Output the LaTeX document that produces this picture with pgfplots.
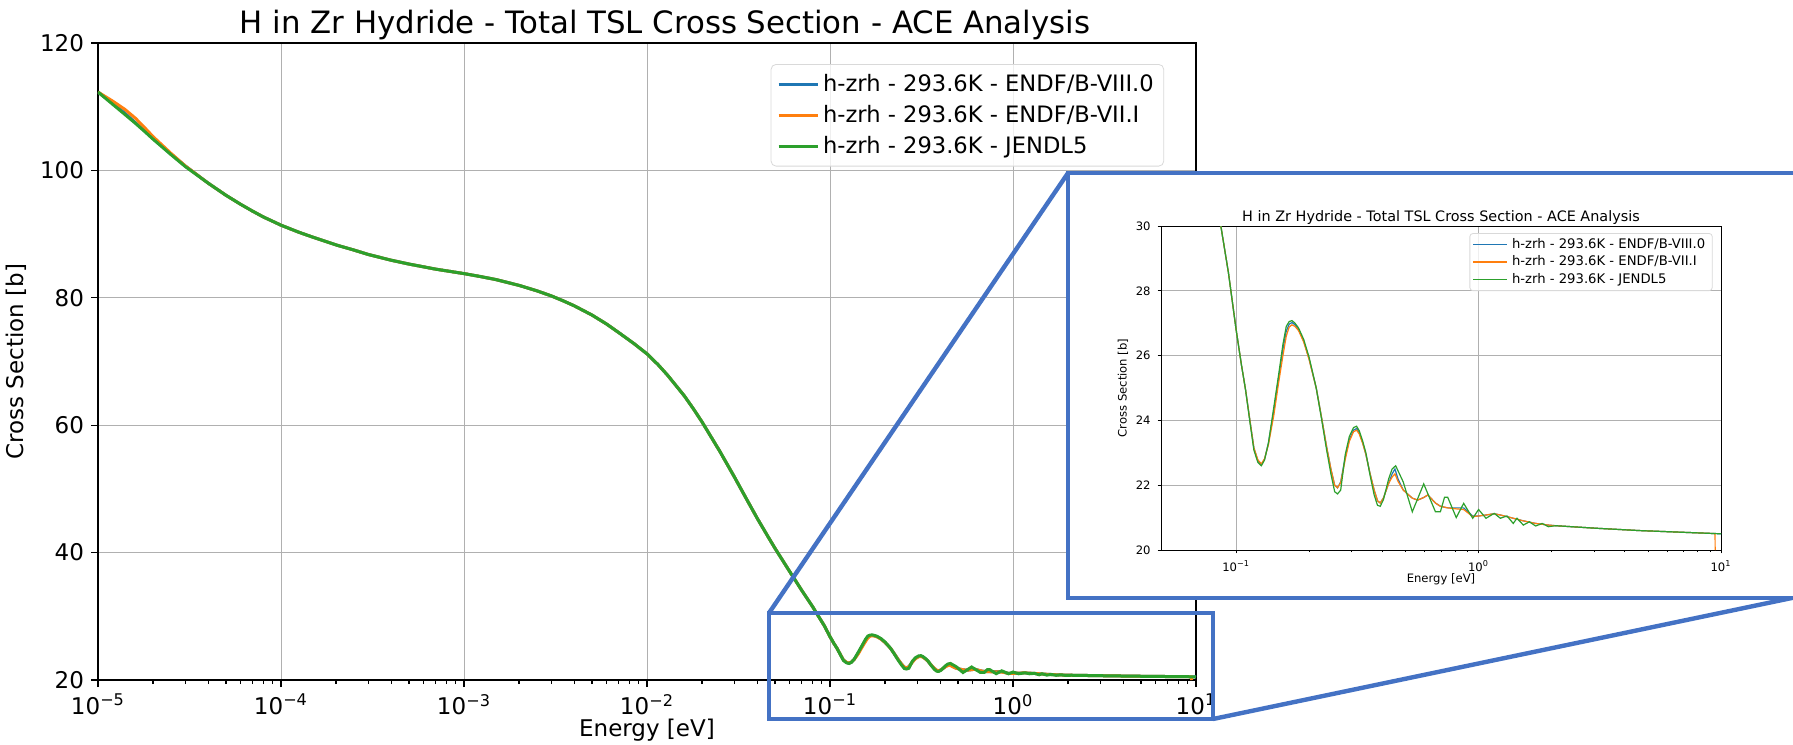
\documentclass[border=0pt]{standalone}
\usepackage{pgfplots}
\usepackage{pgfplotstable}
\pgfplotsset{compat=1.18}
\usepackage{fontspec}
\setmainfont{DejaVu Sans}
\definecolor{cA}{HTML}{1F77B4}
\definecolor{cB}{HTML}{FF7F0E}
\definecolor{cC}{HTML}{2CA02C}
\definecolor{zb}{HTML}{4472C4}
\definecolor{gridgray}{HTML}{B0B0B0}

\pgfplotstableread{
E y
1e-5 112.3
1.2e-5 110.6
1.4e-5 109.0
1.6e-5 107.5
1.8e-5 106.2
2e-5 105.0
2.5e-5 102.6
3e-5 100.7
4e-5 98.0
5e-5 96.1
6e-5 94.7
7e-5 93.6
8e-5 92.7
1e-4 91.4
1.25e-4 90.3
1.5e-4 89.5
2e-4 88.3
2.5e-4 87.5
3e-4 86.8
4e-4 85.9
5e-4 85.3
7e-4 84.5
1e-3 83.8
1.25e-3 83.3
1.5e-3 82.85
2e-3 81.95
2.5e-3 81.1
3e-3 80.3
3.5e-3 79.5
4e-3 78.75
5e-3 77.3
6e-3 75.9
7e-3 74.55
8.5e-3 72.8
1e-2 71.2
1.15e-2 69.5
1.3e-2 67.8
1.6e-2 64.6
1.8e-2 62.5
2e-2 60.5
2.5e-2 55.9
3e-2 51.9
3.5e-2 48.4
4e-2 45.4
4.5e-2 42.9
5e-2 40.7
6e-2 37.1
7e-2 34.1
8e-2 31.6
0.0865 30.0
0.093 28.55
0.1 26.8
0.105 25.75
0.1094 24.94
0.114 24.0
0.1184 23.15
0.123 22.75
0.1271 22.63
0.131 22.8
0.1359 23.3
0.143 24.3
0.150 25.35
0.156 26.2
0.161 26.75
0.1655 26.97
0.170 27.02
0.175 26.95
0.181 26.8
0.190 26.45
0.2 25.9
0.214 25.0
0.225 24.1
0.236 23.2
0.246 22.5
0.255 22.0
0.262 21.92
0.27 22.1
0.282 22.88
0.293 23.4
0.305 23.70
0.314 23.75
0.322 23.62
0.333 23.3
0.343 22.95
0.357 22.35
0.371 21.85
0.383 21.52
0.393 21.45
0.405 21.6
0.426 22.06
0.44 22.35
0.452 22.5
0.465 22.2
0.489 21.85
0.533 21.6
0.561 21.54
0.594 21.62
0.618 21.7
0.664 21.45
0.696 21.35
0.746 21.3
0.809 21.3
0.868 21.3
0.946 21.05
1.0 21.05
1.073 21.08
1.16 21.12
1.23 21.08
1.31 21.03
1.39 20.98
1.53 20.9
1.72 20.82
1.94 20.77
2.08 20.75
3.08 20.67
4.6 20.6
6.8 20.55
10 20.5
}\tabA

\pgfplotstableread{
E y
1e-5 112.3
1.2e-5 110.9
1.4e-5 109.6
1.6e-5 108.2
1.8e-5 106.7
2e-5 105.3
2.5e-5 102.7
3e-5 100.7
4e-5 98.0
5e-5 96.1
6e-5 94.7
7e-5 93.6
8e-5 92.7
1e-4 91.4
1.25e-4 90.3
1.5e-4 89.5
2e-4 88.3
2.5e-4 87.5
3e-4 86.8
4e-4 85.9
5e-4 85.3
7e-4 84.5
1e-3 83.8
1.25e-3 83.3
1.5e-3 82.85
2e-3 81.95
2.5e-3 81.1
3e-3 80.3
3.5e-3 79.5
4e-3 78.75
5e-3 77.3
6e-3 75.9
7e-3 74.55
8.5e-3 72.8
1e-2 71.2
1.15e-2 69.5
1.3e-2 67.8
1.6e-2 64.6
1.8e-2 62.5
2e-2 60.5
2.5e-2 55.9
3e-2 51.9
3.5e-2 48.4
4e-2 45.4
4.5e-2 42.9
5e-2 40.7
6e-2 37.1
7e-2 34.1
8e-2 31.6
0.0865 30.0
0.093 28.55
0.1 26.8
0.105 25.75
0.1094 24.94
0.114 24.0
0.1184 23.15
0.123 22.78
0.1271 22.66
0.131 22.82
0.1359 23.25
0.143 24.15
0.150 25.2
0.156 26.0
0.161 26.6
0.1655 26.88
0.170 26.95
0.175 26.9
0.181 26.77
0.190 26.42
0.2 25.88
0.214 25.0
0.225 24.1
0.236 23.2
0.246 22.5
0.255 22.0
0.262 21.92
0.27 22.08
0.282 22.8
0.293 23.35
0.305 23.65
0.314 23.7
0.322 23.58
0.333 23.28
0.343 22.95
0.357 22.35
0.371 21.85
0.383 21.52
0.393 21.45
0.405 21.6
0.426 22.06
0.44 22.25
0.452 22.35
0.465 22.12
0.489 21.85
0.533 21.6
0.561 21.54
0.594 21.62
0.618 21.7
0.664 21.45
0.696 21.35
0.746 21.3
0.809 21.27
0.868 21.25
0.946 21.03
1.0 21.05
1.073 21.08
1.16 21.12
1.23 21.08
1.31 21.03
1.39 20.98
1.53 20.9
1.72 20.82
1.94 20.77
2.08 20.75
3.08 20.67
4.6 20.6
6.8 20.55
9.3 20.51
9.45 20.5
9.46 20.0
}\tabB

\pgfplotstableread{
E y
1e-5 112.3
1.2e-5 110.4
1.4e-5 108.8
1.6e-5 107.4
1.8e-5 106.1
2e-5 104.9
2.5e-5 102.5
3e-5 100.6
4e-5 98.0
5e-5 96.1
6e-5 94.7
7e-5 93.6
8e-5 92.7
1e-4 91.4
1.25e-4 90.3
1.5e-4 89.5
2e-4 88.3
2.5e-4 87.5
3e-4 86.8
4e-4 85.9
5e-4 85.3
7e-4 84.5
1e-3 83.8
1.25e-3 83.3
1.5e-3 82.85
2e-3 81.95
2.5e-3 81.1
3e-3 80.3
3.5e-3 79.5
4e-3 78.75
5e-3 77.3
6e-3 75.9
7e-3 74.55
8.5e-3 72.8
1e-2 71.2
1.15e-2 69.5
1.3e-2 67.8
1.6e-2 64.6
1.8e-2 62.5
2e-2 60.5
2.5e-2 55.9
3e-2 51.9
3.5e-2 48.4
4e-2 45.4
4.5e-2 42.9
5e-2 40.7
6e-2 37.1
7e-2 34.1
8e-2 31.6
0.0865 30.0
0.093 28.55
0.1 26.8
0.105 25.75
0.1094 24.94
0.114 23.95
0.1184 23.08
0.123 22.7
0.1271 22.6
0.131 22.78
0.1359 23.3
0.143 24.4
0.150 25.45
0.156 26.35
0.161 26.9
0.1655 27.05
0.170 27.08
0.175 27.0
0.181 26.85
0.190 26.5
0.2 25.95
0.214 25.0
0.225 24.05
0.236 23.1
0.246 22.35
0.255 21.8
0.262 21.73
0.27 21.85
0.282 22.95
0.293 23.5
0.305 23.78
0.314 23.82
0.322 23.68
0.333 23.35
0.343 23.0
0.357 22.3
0.371 21.7
0.383 21.38
0.393 21.35
0.405 21.55
0.426 22.2
0.44 22.5
0.455 22.6
0.465 22.45
0.489 22.1
0.533 21.18
0.594 22.04
0.664 21.18
0.696 21.18
0.724 21.63
0.746 21.63
0.809 21.0
0.868 21.44
0.946 20.98
1.0 21.25
1.073 20.98
1.16 21.13
1.23 20.98
1.31 21.05
1.39 20.82
1.44 20.98
1.53 20.77
1.62 20.87
1.72 20.74
1.83 20.82
1.94 20.72
2.08 20.75
3.08 20.67
4.6 20.6
6.8 20.55
10 20.5
}\tabC

\begin{document}
\begin{tikzpicture}
\useasboundingbox (0pt,0pt) rectangle (896.5pt,-372pt);
\clip (0pt,0pt) rectangle (896.5pt,-372pt);
% ---------------- main axis ----------------
\begin{axis}[
  at={(49pt,-340pt)}, anchor=south west,
  width=549pt, height=318.5pt, scale only axis,
  xmode=log, xmin=1e-5, xmax=10, ymin=20, ymax=120,
  xtick={1e-5,1e-4,1e-3,1e-2,1e-1,1,10},
  xticklabels={10\textsuperscript{−5},10\textsuperscript{−4},10\textsuperscript{−3},10\textsuperscript{−2},10\textsuperscript{−1},10\textsuperscript{0},10\textsuperscript{1}},
  ytick={20,40,60,80,100,120},
  yticklabels={20,40,60,80,100,120},
  grid=major, major grid style={draw=gridgray, line width=0.4pt},
  tick align=outside, tick pos=left,
  major tick length=3.5pt, minor tick length=2pt,
  axis line style={line width=0.8pt},
  tick style={line width=0.6pt, black},
  tick label style={font=\fontsize{11.5}{12}\selectfont},
  label style={font=\fontsize{11.5}{12}\selectfont},
  xlabel style={yshift=5pt},
  title style={font=\fontsize{15.4}{17}\selectfont, at={(0.5,1)}, anchor=base, yshift=-1pt, xshift=9pt},
  title={H in Zr Hydride - Total TSL Cross Section - ACE Analysis},
  xlabel={Energy [eV]}, ylabel={Cross Section [b]},
  legend cell align=left,
  legend image code/.code={\draw[#1] (0pt,0pt) -- (19.5pt,0pt);},
  legend style={at={(0.971,0.967)}, anchor=north east, draw=black!15,
    fill=white, fill opacity=0.8, text opacity=1, rounded corners=2.5pt,
    font=\fontsize{11.3}{12}\selectfont, row sep=1.3pt, inner xsep=3pt, inner ysep=3pt},
]
\addplot[cA, line width=1.5pt] table[x=E,y=y]{\tabA};
\addlegendentry{h-zrh - 293.6K - ENDF/B-VIII.0}
\addplot[cB, line width=1.5pt] table[x=E,y=y]{\tabB};
\addlegendentry{h-zrh - 293.6K - ENDF/B-VII.I}
\addplot[cC, line width=1.5pt] table[x=E,y=y]{\tabC};
\addlegendentry{h-zrh - 293.6K - JENDL5}
\end{axis}
% ---------------- zoom annotation ----------------
\begin{scope}[x=0.5pt,y=-0.5pt]
\draw[zb, line width=2.2pt] (769,613) rectangle (1213,719);
\draw[zb, line width=2.2pt] (769,613) -- (1068,173);
\draw[zb, line width=2.2pt] (1213,719) -- (1830,590);
\filldraw[fill=white, draw=zb, line width=2.2pt] (1068,173) rectangle (1830,598);
\end{scope}
% ---------------- inset axis ----------------
\begin{axis}[
  at={(580.5pt,-275pt)}, anchor=south west,
  width=280pt, height=162pt, scale only axis,
  xmode=log, xmin=0.049, xmax=10, ymin=20, ymax=30,
  xtick={0.1,1,10},
  xticklabels={10\textsuperscript{−1},10\textsuperscript{0},10\textsuperscript{1}},
  ytick={20,22,24,26,28,30},
  yticklabels={20,22,24,26,28,30},
  grid=major, major grid style={draw=gridgray, line width=0.35pt},
  tick align=outside, tick pos=left,
  major tick length=1.7pt, minor tick length=1pt,
  axis line style={line width=0.5pt},
  tick style={line width=0.35pt, black},
  tick label style={font=\fontsize{5.8}{6}\selectfont},
  label style={font=\fontsize{5.8}{6}\selectfont},
  xlabel style={yshift=6pt},
  ylabel style={yshift=-3pt},
  title style={font=\fontsize{7.2}{8}\selectfont, at={(0.5,1)}, anchor=base, yshift=-3.5pt},
  title={H in Zr Hydride - Total TSL Cross Section - ACE Analysis},
  xlabel={Energy [eV]}, ylabel={Cross Section [b]},
  legend cell align=left,
  legend image code/.code={\draw[#1] (0pt,0pt) -- (17pt,0pt);},
  legend style={at={(0.985,0.978)}, anchor=north east, draw=black!15,
    fill=white, fill opacity=0.8, text opacity=1, rounded corners=1.5pt,
    font=\fontsize{6.6}{7}\selectfont, row sep=0pt, inner xsep=1.5pt, inner ysep=1.2pt,
    nodes={inner ysep=1.1pt}},
]
\addplot[cA, line width=0.6pt] table[x=E,y=y]{\tabA};
\addlegendentry{h-zrh - 293.6K - ENDF/B-VIII.0}
\addplot[cB, line width=0.6pt] table[x=E,y=y]{\tabB};
\addlegendentry{h-zrh - 293.6K - ENDF/B-VII.I}
\addplot[cC, line width=0.6pt] table[x=E,y=y]{\tabC};
\addlegendentry{h-zrh - 293.6K - JENDL5}
\end{axis}
\end{tikzpicture}
\end{document}
